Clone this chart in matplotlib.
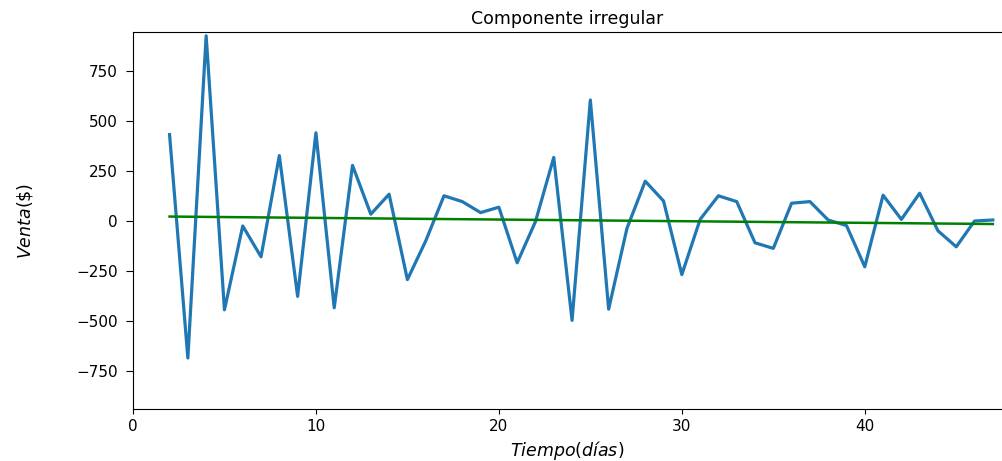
import numpy as np
import matplotlib
matplotlib.use("Agg")
import matplotlib.pyplot as plt

# Componente irregular de la serie (dias 2..47)
dias = list(range(2, 48))
irregular = [432, -685, 926, -444, -25, -179, 327, -377, 441, -434,
             278, 34, 134, -293, -100, 126, 97, 42, 69, -209,
             -3, 318, -497, 605, -441, -37, 199, 100, -268, 8,
             126, 97, -109, -137, 89, 97, 5, -23, -229, 129,
             8, 139, -49, -129, 0, 5]

# Tendencia lineal del componente irregular
coef = np.polyfit(dias, irregular, 1)
tendencia = np.polyval(coef, dias)

fig = plt.figure(figsize=(10.02, 4.61), dpi=100)
ax = fig.add_axes([0.1327, 0.1128, 0.8673, 0.8178])

ax.plot(dias, irregular, color="#1f77b4", linewidth=2.3)
ax.plot(dias, tendencia, color="green", linewidth=1.8)

ax.set_xlim(0, 47.5)
ax.set_ylim(-940, 945)
ax.set_yticks([-750, -500, -250, 0, 250, 500, 750])
ax.set_xticks([0, 10, 20, 30, 40])
ax.tick_params(labelsize=11)
ax.tick_params(axis="y", length=5, pad=6)
ax.spines["right"].set_visible(False)

ax.set_title("Componente irregular", fontsize=12.5)
ax.set_xlabel("$Tiempo(días)$", fontsize=12.5)
ax.set_ylabel("$Venta(\\$)$", fontsize=12.5)
ax.yaxis.set_label_coords(-0.113, 0.5)

fig.savefig("out.png", dpi=100)
